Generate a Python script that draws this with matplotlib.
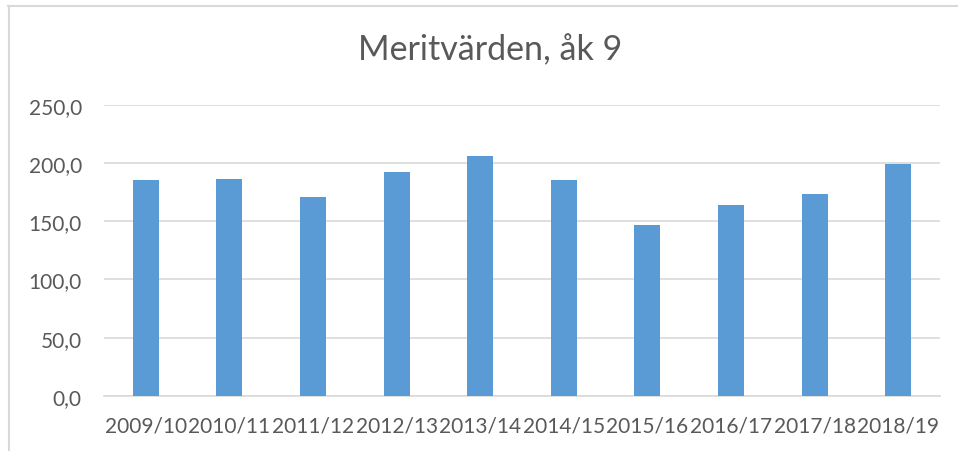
import matplotlib
matplotlib.use("Agg")
import matplotlib.pyplot as plt
from matplotlib.lines import Line2D
from matplotlib.ticker import FuncFormatter

categories = ["2009/10", "2010/11", "2011/12", "2012/13", "2013/14",
              "2014/15", "2015/16", "2016/17", "2017/18", "2018/19"]
values = [185.6, 186.4, 171.0, 192.2, 205.9, 185.3, 146.6, 163.6, 173.3, 198.8]
yticks = [0, 50, 100, 150, 200, 250]
title = "Meritvärden, åk 9"

plt.rcParams['font.family'] = ['Lato', 'DejaVu Sans']
txt = "#595959"
grid = "#d9d9d9"

fig = plt.figure(figsize=(9.58, 4.52), dpi=100)
ax = fig.add_axes([104/958, 1-397/452, (940-104)/958, (397-105.7)/452])

x = list(range(len(categories)))
ax.bar(x, values, width=0.31, color="#5B9BD5", zorder=3)
ax.set_xlim(-0.5, len(categories) - 0.5)
ax.set_ylim(0, 250)
ax.set_yticks(yticks)
ax.yaxis.set_major_formatter(FuncFormatter(lambda v, p: f"{v:.1f}".replace(".", ",")))
ax.set_xticks(x)
ax.set_xticklabels(categories)
ax.grid(axis="y", color=grid, linewidth=1.2, zorder=0)
for s in ["top", "right", "left"]:
    ax.spines[s].set_visible(False)
ax.spines["bottom"].set_color(grid)
ax.spines["bottom"].set_linewidth(1.2)
ax.tick_params(axis="both", length=0, labelcolor=txt, labelsize=15)
ax.tick_params(axis="y", pad=16)
ax.tick_params(axis="x", pad=14)

fig.text(490/958, 1-50/452, title, ha="center", va="center", fontsize=24.5, color=txt)

# chart area border (top and left)
fig.add_artist(Line2D([8/958, 1], [1-7/452, 1-7/452], transform=fig.transFigure, color=grid, linewidth=1.5))
fig.add_artist(Line2D([8.5/958, 8.5/958], [0, 1-7/452], transform=fig.transFigure, color=grid, linewidth=1.5))

fig.savefig("out.png", dpi=100, facecolor="white")
